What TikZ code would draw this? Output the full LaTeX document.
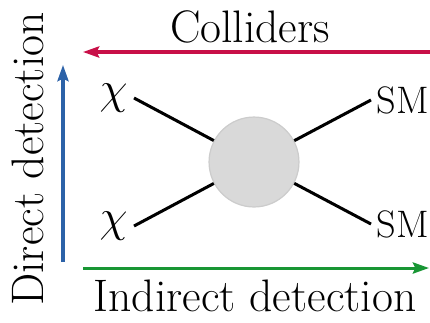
\RequirePackage{fix-cm}
\documentclass[tikz,border=0pt]{standalone}
\usetikzlibrary{arrows.meta}
\definecolor{colred}{RGB}{200,16,72}
\definecolor{dirblue}{RGB}{44,98,168}
\definecolor{indgreen}{RGB}{24,150,52}

\begin{document}
\begin{tikzpicture}[x=0.496pt, y=-0.496pt,
  leg/.style={line width=1.5pt},
  axis/.style={line width=1.5pt, -{Stealth[length=8pt,width=5.5pt,inset=1.2pt]}},
  lbl/.style={font=\fontsize{22.6}{27}\selectfont, inner sep=0pt},
  part/.style={font=\fontsize{22.6}{27}\selectfont, inner sep=3pt},
  smpart/.style={font=\fontsize{19}{23}\selectfont, inner sep=2.5pt}]
\clip (0,0) rectangle (430,322);
\node[circle, minimum size=44.6pt, fill=black!15, draw=black!20, line width=0.6pt] (blob) at (254,162) {};
\node[part, anchor=east] (chiA) at (134,98) {$\chi$};
\node[part, anchor=east] (chiB) at (134,226) {$\chi$};
\node[smpart, anchor=west] (smA) at (371,100) {SM};
\node[smpart, anchor=west] (smB) at (371,224) {SM};
\draw[leg] (chiA.east) -- (blob);
\draw[leg] (chiB.east) -- (blob);
\draw[leg] (blob) -- (smA.west);
\draw[leg] (blob) -- (smB.west);
\coordinate (colS) at (440,52);
\coordinate (colE) at (83,52);
\coordinate (dirS) at (63,262);
\coordinate (dirE) at (63,65);
\coordinate (indS) at (83,268);
\coordinate (indE) at (429,268);
\draw[axis, colred] (colS) -- (colE);
\draw[axis, dirblue] (dirS) -- (dirE);
\draw[axis, indgreen] (indS) -- (indE);
\node[lbl] (colliders) at (250,26.5) {Colliders};
\node[lbl] (indirect) at (255,296) {Indirect detection};
\node[lbl, rotate=90] (direct) at (27.5,159) {Direct detection};
\end{tikzpicture}
\end{document}
